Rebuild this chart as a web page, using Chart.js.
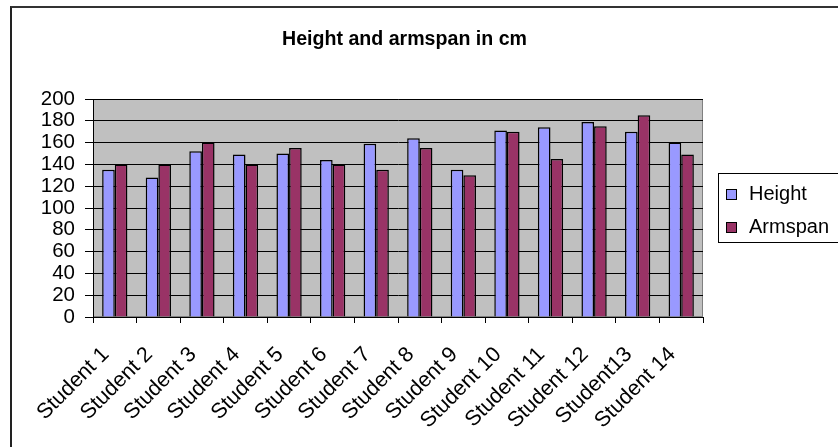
<!DOCTYPE html>
<html>
<head>
<meta charset="utf-8">
<script src="https://cdn.jsdelivr.net/npm/chart.js@4/dist/chart.umd.min.js"></script>
<style>
  html,body{margin:0;padding:0;background:#fff;}
  #wrap{position:relative;width:838px;height:447px;overflow:hidden;font-family:"Liberation Sans",Arial,sans-serif;}
  #frame{position:absolute;left:10px;top:6px;width:840px;height:460px;border-left:2px solid #222;border-top:2px solid #333;}
  #title{position:absolute;left:0;width:809px;text-align:center;top:27px;font-weight:bold;font-size:19.6px;line-height:23px;color:#000;}
  #legend{position:absolute;left:718px;top:173px;width:140px;height:68px;border:1px solid #000;background:#fff;}
  .item{position:absolute;left:7px;font-size:20px;color:#000;line-height:20px;white-space:nowrap;}
  .sw{display:inline-block;width:9px;height:9px;border:1px solid #000;margin-right:12px;vertical-align:0px;}
  canvas{position:absolute;left:0;top:0;}
</style>
</head>
<body>
<div id="wrap">
  <canvas id="c" width="838" height="447"></canvas>
  <div id="frame"></div>
  <div id="title">Height and armspan in cm</div>
  <div id="legend">
    <div class="item" style="top:9px"><span class="sw" style="background:#9999FF"></span>Height</div>
    <div class="item" style="top:42px"><span class="sw" style="background:#993366"></span>Armspan</div>
  </div>
</div>
<script>
const categories = ["Student 1","Student 2","Student 3","Student 4","Student 5","Student 6","Student 7","Student 8","Student 9","Student 10","Student 11","Student 12","Student13","Student 14"];
const heightValues = [135,128,152,149,150,144,159,164,135,171,174,179,170,160];
const armspanValues = [140,140,160,140,155,140,135,155,130,170,145,175,185,149];
const yTicks = [0,20,40,60,80,100,120,140,160,180,200];

const plotBg = {
  id:'plotBg',
  beforeDraw(chart){
    const {ctx, chartArea:a} = chart;
    ctx.save();
    ctx.fillStyle = '#C0C0C0';
    ctx.fillRect(a.left, a.top, a.right-a.left, a.bottom-a.top);
    ctx.strokeStyle = '#808080';
    ctx.lineWidth = 1;
    ctx.strokeRect(a.left+0.5, a.top+0.5, a.right-a.left-1, a.bottom-a.top-1);
    ctx.restore();
  }
};

new Chart(document.getElementById('c'), {
  type:'bar',
  data:{
    labels:categories,
    datasets:[
      {label:'Height', data:heightValues, backgroundColor:'#9999FF', borderColor:'#000', borderWidth:1.5, categoryPercentage:0.58, barPercentage:1.0},
      {label:'Armspan', data:armspanValues, backgroundColor:'#993366', borderColor:'#000', borderWidth:1.5, categoryPercentage:0.58, barPercentage:1.0}
    ]
  },
  options:{
    responsive:false,
    animation:false,
    devicePixelRatio:1,
    layout:{padding:{left:0,top:99,right:135,bottom:0}},
    plugins:{legend:{display:false},title:{display:false},tooltip:{enabled:false}},
    scales:{
      x:{
        offset:true,
        grid:{offset:true, drawOnChartArea:false, drawTicks:true, tickLength:6, color:'#000', lineWidth:1},
        border:{display:true,color:'#000',width:1},
        ticks:{minRotation:45, maxRotation:45, autoSkip:false, color:'#000', font:{family:'Liberation Sans', size:21.5}, padding:19, labelOffset:-9},
        afterFit(s){ s.height = 130; }
      },
      y:{
        min:0, max:200,
        afterBuildTicks(s){ s.ticks = yTicks.map(v=>({value:v})); },
        grid:{color:'#000', lineWidth:1, tickLength:8, drawTicks:true},
        border:{display:true,color:'#000',width:1},
        ticks:{autoSkip:false, color:'#000', font:{family:'Liberation Sans', size:20.5}, padding:10},
        afterFit(s){ s.width = 93; }
      }
    }
  },
  plugins:[plotBg]
});
</script>
</body>
</html>
